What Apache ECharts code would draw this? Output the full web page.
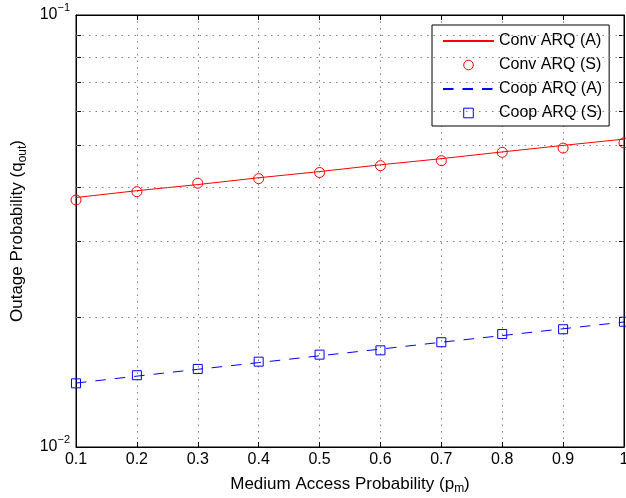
<!DOCTYPE html>
<html lang="en">
<head>
    <meta charset="UTF-8">
    <title>Outage Probability</title>
    <script src="https://cdn.jsdelivr.net/npm/echarts@6/dist/echarts.min.js"></script>
    <style type="text/css">
        html, body { margin: 0; padding: 0; background: #fff; }
        #main { width: 626px; height: 498px; }
    </style>
</head>
<body>
<div id="main"></div>
<script type="text/javascript">
    // medium access probability p_m
    var pm = [0.1, 0.2, 0.3, 0.4, 0.5, 0.6, 0.7, 0.8, 0.9, 1.0];
    // conventional ARQ: analysis (line) and simulation (circles)
    var convAnalysis = [0.0378, 0.0392, 0.0405, 0.0420, 0.0434, 0.0450, 0.0465, 0.0482, 0.0499, 0.0516];
    var convSim = [0.0373, 0.0390, 0.0408, 0.0418, 0.0432, 0.0448, 0.0460, 0.0481, 0.0492, 0.0506];
    // cooperative ARQ: analysis (dashed) and simulation (squares)
    var coopAnalysis = [0.01406, 0.01459, 0.01513, 0.01568, 0.01626, 0.01685, 0.01748, 0.01811, 0.01878, 0.01947];
    var coopSim = [0.01404, 0.01466, 0.01516, 0.01576, 0.01636, 0.01674, 0.01748, 0.01826, 0.01873, 0.01950];
    // minor decade lines of the log axis
    var yMinor = [0.02, 0.03, 0.04, 0.05, 0.06, 0.07, 0.08, 0.09];
    var yTicks = [0.01, 0.02, 0.03, 0.04, 0.05, 0.06, 0.07, 0.08, 0.09, 0.1];

    var font = "'Liberation Sans', Arial, sans-serif";
    var dotted = {type: [1.5, 5], color: '#808080', width: 1};

    function pairs(ys) {
        return pm.map(function (x, i) { return [x, ys[i]]; });
    }

    var myChart = echarts.init(document.getElementById('main'));
    var option = {
        animation: false,
        backgroundColor: '#fff',
        grid: {
            left: 76, top: 15, right: 2, bottom: 51,
            outerBoundsMode: 'none', containLabel: false,
            show: true, borderColor: '#000', borderWidth: 1
        },
        legend: {
            left: 432, top: 25, orient: 'vertical',
            itemWidth: 51, itemHeight: 12, itemGap: 8,
            padding: [8, 7, 5, 10],
            borderColor: '#000', borderWidth: 1, backgroundColor: '#fff',
            textStyle: {fontSize: 16, lineHeight: 16, fontFamily: font, color: '#000'},
            data: [
                {name: 'Conv ARQ (A)', itemStyle: {opacity: 0}},
                {name: 'Conv ARQ (S)', itemStyle: {borderWidth: 1}},
                {name: 'Coop ARQ (A)', itemStyle: {opacity: 0}},
                {name: 'Coop ARQ (S)', itemStyle: {borderWidth: 1}}
            ]
        },
        xAxis: [{
            type: 'value', min: 0.1, max: 1, interval: 0.1,
            name: '{a|Medium Access Probability (p}{s|m}{a|)}',
            nameLocation: 'middle', nameGap: 26,
            nameTextStyle: {
                rich: {
                    a: {fontSize: 17, lineHeight: 20, fontFamily: font, color: '#000'},
                    s: {fontSize: 12, lineHeight: 12, fontFamily: font, color: '#000', padding: [10, 0, 0, 0]}
                }
            },
            axisLine: {lineStyle: {color: '#000', width: 1}},
            axisTick: {inside: true, length: 5, lineStyle: {color: '#000'}},
            axisLabel: {fontSize: 16, fontFamily: font, color: '#000', margin: 5},
            splitLine: {show: true, lineStyle: dotted}
        }, {
            type: 'value', min: 0.1, max: 1, interval: 0.1, position: 'top',
            axisLine: {lineStyle: {color: '#000', width: 1}},
            axisTick: {inside: true, length: 5, lineStyle: {color: '#000'}},
            axisLabel: {show: false},
            splitLine: {show: false}
        }],
        yAxis: [{
            type: 'log', logBase: 10, min: 0.01, max: 0.1,
            name: '{a|Outage Probability (q}{s|out}{a|)}',
            nameLocation: 'middle', nameGap: 48, nameRotate: 90,
            nameTextStyle: {
                rich: {
                    a: {fontSize: 17, lineHeight: 20, fontFamily: font, color: '#000'},
                    s: {fontSize: 12, lineHeight: 12, fontFamily: font, color: '#000', padding: [10, 0, 0, 0]}
                }
            },
            axisLine: {lineStyle: {color: '#000', width: 1}},
            axisTick: {inside: true, length: 5, customValues: yTicks, lineStyle: {color: '#000'}},
            axisLabel: {
                margin: 6,
                formatter: function (v) {
                    return '{b|10}{e|\u2212' + Math.round(-Math.log(v) / Math.LN10) + '}';
                },
                rich: {
                    b: {fontSize: 16, fontFamily: font, color: '#000'},
                    e: {fontSize: 11, fontFamily: font, color: '#000', padding: [0, 0, 14, 0]}
                }
            },
            splitLine: {show: false}
        }, {
            type: 'log', logBase: 10, min: 0.01, max: 0.1, position: 'right',
            axisLine: {lineStyle: {color: '#000', width: 1}},
            axisTick: {inside: true, length: 5, customValues: yTicks, lineStyle: {color: '#000'}},
            axisLabel: {show: false},
            splitLine: {show: false}
        }],
        series: [{
            name: 'Conv ARQ (A)', type: 'line', symbol: 'none',
            data: pairs(convAnalysis),
            itemStyle: {color: '#ff0000'},
            lineStyle: {color: '#ff0000', width: 1},
            markLine: {
                silent: true, symbol: ['none', 'none'], label: {show: false},
                lineStyle: dotted, emphasis: {disabled: true},
                data: yMinor.map(function (v) { return {yAxis: v}; })
            },
            z: 3
        }, {
            name: 'Conv ARQ (S)', type: 'line', symbol: 'circle', symbolSize: 10, showSymbol: true,
            data: pairs(convSim),
            itemStyle: {color: 'transparent', borderColor: '#ff0000', borderWidth: 1},
            lineStyle: {width: 0, opacity: 0},
            z: 4
        }, {
            name: 'Coop ARQ (A)', type: 'line', symbol: 'none',
            data: pairs(coopAnalysis),
            itemStyle: {color: '#0000ff'},
            lineStyle: {color: '#0000ff', width: 1, type: [10.5, 9]},
            z: 3
        }, {
            name: 'Coop ARQ (S)', type: 'line', symbol: 'rect', symbolSize: 9, showSymbol: true,
            data: pairs(coopSim),
            itemStyle: {color: 'transparent', borderColor: '#0000ff', borderWidth: 1},
            lineStyle: {width: 0, opacity: 0},
            z: 4
        }]
    };
    myChart.setOption(option);
</script>
</body>
</html>
